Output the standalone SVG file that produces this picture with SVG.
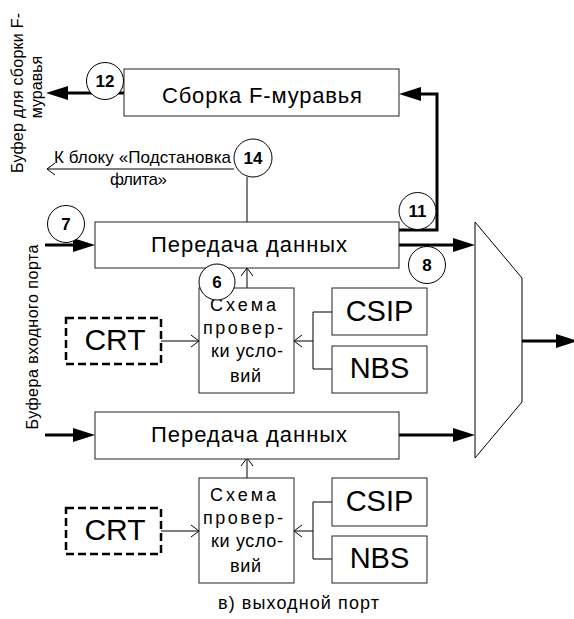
<svg xmlns="http://www.w3.org/2000/svg" width="574" height="619" viewBox="0 0 574 619">
  <style>
    text { font-family: "Liberation Sans", Arial, sans-serif; fill: #000; }
    .box { fill: #fff; stroke: #222; stroke-width: 1; }
    .dash { fill: #fff; stroke: #000; stroke-width: 2.5; stroke-dasharray: 8 4; }
    .num { fill: #fff; stroke: #000; stroke-width: 1; }
    .numt { font-size: 17px; font-weight: bold; text-anchor: middle; }
    .big { font-size: 22px; text-anchor: middle; }
    .sym { font-size: 30px; text-anchor: middle; }
    .sm { font-size: 16px; text-anchor: middle; }
    .chk { font-size: 18px; text-anchor: middle; }
    .lbl { font-size: 17px; }
    .thick { fill: none; stroke: #000; stroke-width: 3; marker-end: url(#tri); }
    .thin { fill: none; stroke: #000; stroke-width: 1; }
    .thinarrow { fill: none; stroke: #000; stroke-width: 1; marker-end: url(#open); }
  </style>
  <defs>
    <marker id="tri" markerUnits="userSpaceOnUse" markerWidth="24" markerHeight="16" refX="12" refY="7" orient="auto" overflow="visible">
      <path d="M0,0 L22,7 L0,14 z" fill="#000"/>
    </marker>
    <marker id="open" markerUnits="userSpaceOnUse" markerWidth="10" markerHeight="14" refX="8" refY="6" orient="auto" overflow="visible">
      <path d="M0,0 L8,6 L0,12" fill="none" stroke="#000" stroke-width="1"/>
    </marker>
  </defs>
  <rect width="574" height="619" fill="#fff"/>

  <!-- side labels -->
  <g id="side-labels">
    <text class="sm" transform="translate(23,93) rotate(-90)" textLength="160" lengthAdjust="spacing">Буфер для сборки F-</text>
    <text class="sm" transform="translate(42,87) rotate(-90)">муравья</text>
    <text class="sm" transform="translate(37.5,337) rotate(-90)" textLength="185" lengthAdjust="spacing">Буфера входного порта</text>
  </g>

  <!-- connectors -->
  <g id="connectors">
    <path class="thick" d="M124,93 H56"/>
    <path class="thick" d="M398,230 H437 V94 H409"/>
    <path class="thinarrow" d="M234,169 H47"/>
    <path class="thin" d="M247,177 V222"/>
    <path class="thick" d="M45,245 H85"/>
    <path class="thick" d="M399,245 H465"/>
    <path class="thick" d="M522,341 H568"/>
    <path class="thick" d="M45,435 H85"/>
    <path class="thick" d="M399,435 H465"/>
    <!-- upper check stage -->
    <path class="thinarrow" d="M247,288 V268"/>
    <path class="thinarrow" d="M161,341 H199"/>
    <path class="thin" d="M332,312 H313 V369 H332"/>
    <path class="thinarrow" d="M313,341 H294"/>
    <!-- lower check stage -->
    <path class="thinarrow" d="M247,478 V458"/>
    <path class="thinarrow" d="M161,531 H199"/>
    <path class="thin" d="M332,502 H313 V559 H332"/>
    <path class="thinarrow" d="M313,531 H294"/>
  </g>

  <g id="assembly">
    <rect class="box" x="124" y="69" width="275" height="47"/>
    <text class="big" x="262" y="103" textLength="200" lengthAdjust="spacing">Сборка F-муравья</text>
  </g>

  <g id="transfer-1">
    <rect class="box" x="95" y="222" width="304" height="46"/>
    <text class="big" x="249" y="252" textLength="196" lengthAdjust="spacing">Передача данных</text>
  </g>
  <g id="transfer-2">
    <rect class="box" x="95" y="412" width="304" height="47"/>
    <text class="big" x="249" y="442" textLength="196" lengthAdjust="spacing">Передача данных</text>
  </g>

  <g id="mux">
    <polygon points="475,222 522,278 522,402 475,458" fill="#fff" stroke="#000" stroke-width="1"/>
  </g>

  <g id="check-1">
    <rect class="box" x="199" y="288" width="95" height="105"/>
    <text class="chk" x="243" y="311" textLength="66" lengthAdjust="spacing">Схема</text>
    <text class="chk" x="243" y="334" textLength="80" lengthAdjust="spacing">провер-</text>
    <text class="chk" x="247" y="357" textLength="72" lengthAdjust="spacing">ки усло-</text>
    <text class="chk" x="245.5" y="382" textLength="31" lengthAdjust="spacing">вий</text>
  </g>
  <g id="check-2">
    <rect class="box" x="199" y="478" width="95" height="105"/>
    <text class="chk" x="243" y="501" textLength="66" lengthAdjust="spacing">Схема</text>
    <text class="chk" x="243" y="524" textLength="80" lengthAdjust="spacing">провер-</text>
    <text class="chk" x="247" y="547" textLength="72" lengthAdjust="spacing">ки усло-</text>
    <text class="chk" x="245.5" y="572" textLength="31" lengthAdjust="spacing">вий</text>
  </g>

  <g id="crt-1">
    <rect class="dash" x="66" y="318" width="95" height="46"/>
    <text class="sym" x="115" y="350">CRT</text>
  </g>
  <g id="crt-2">
    <rect class="dash" x="66" y="508" width="95" height="46"/>
    <text class="sym" x="115" y="540">CRT</text>
  </g>

  <g id="csip-1">
    <rect class="box" x="332" y="288" width="95" height="47"/>
    <text class="sym" x="379.5" y="321" style="font-size:29px">CSIP</text>
  </g>
  <g id="nbs-1">
    <rect class="box" x="332" y="346" width="95" height="47"/>
    <text class="sym" x="379.5" y="378" style="font-size:29px">NBS</text>
  </g>
  <g id="csip-2">
    <rect class="box" x="332" y="478" width="95" height="48"/>
    <text class="sym" x="379.5" y="511" style="font-size:29px">CSIP</text>
  </g>
  <g id="nbs-2">
    <rect class="box" x="332" y="536" width="95" height="47"/>
    <text class="sym" x="379.5" y="568" style="font-size:29px">NBS</text>
  </g>

  <g id="subst-label">
    <text class="lbl" x="54" y="163" textLength="177" lengthAdjust="spacing">К блоку «Подстановка</text>
    <text class="lbl" x="138.5" y="185" text-anchor="middle" textLength="57" lengthAdjust="spacing">флита»</text>
  </g>

  <!-- numbered markers -->
  <g id="n12"><circle class="num" cx="105" cy="81" r="18.5"/><text class="numt" x="105" y="87">12</text></g>
  <g id="n14"><circle class="num" cx="253" cy="158" r="19"/><text class="numt" x="253" y="164">14</text></g>
  <g id="n7"><circle class="num" cx="66" cy="224" r="18.5"/><text class="numt" x="66" y="230">7</text></g>
  <g id="n11"><circle class="num" cx="417.5" cy="211" r="18.5"/><text class="numt" x="417.5" y="217">11</text></g>
  <g id="n8"><circle class="num" cx="427" cy="265" r="18.5"/><text class="numt" x="427" y="271">8</text></g>
  <g id="n6"><circle class="num" cx="217" cy="282" r="18"/><text class="numt" x="217" y="288">6</text></g>

  <g id="caption">
    <text class="chk" x="298.5" y="609" textLength="161" lengthAdjust="spacing">в) выходной порт</text>
  </g>
</svg>
